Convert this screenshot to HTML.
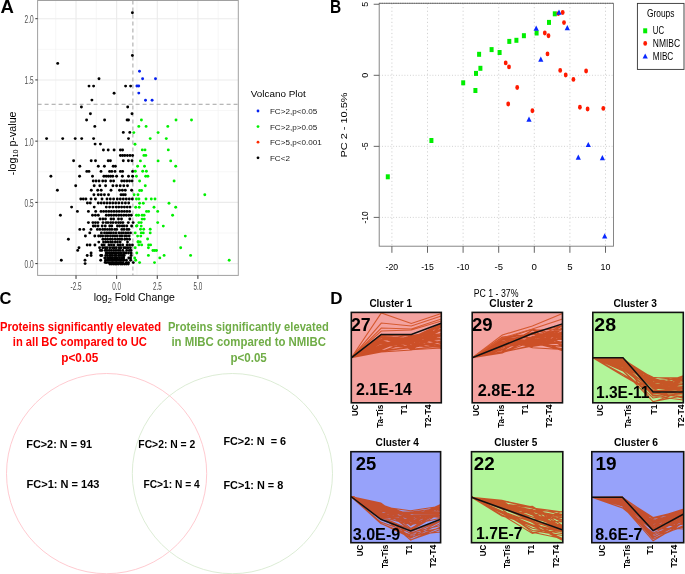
<!DOCTYPE html>
<html><head><meta charset="utf-8"><title>Figure</title>
<style>html,body{margin:0;padding:0;background:#fff;}body{width:685px;height:574px;overflow:hidden;font-family:"Liberation Sans",sans-serif;}svg{display:block;will-change:transform;}</style>
</head><body>
<svg width="685" height="574" viewBox="0 0 685 574" font-family="Liberation Sans, sans-serif"><rect x="37.6" y="0.5" width="200.70000000000002" height="274.9" fill="#fff"/>
<path d="M55.71 0.5V275.4 M96.34 0.5V275.4 M136.96 0.5V275.4 M177.59 0.5V275.4 M218.21 0.5V275.4 M37.6 232.99H238.3 M37.6 171.76H238.3 M37.6 110.54H238.3 M37.6 49.31H238.3" stroke="#f2f2f2" stroke-width="0.6" fill="none"/>
<path d="M76.03 0.5V275.4 M116.65 0.5V275.4 M157.28 0.5V275.4 M197.90 0.5V275.4 M37.6 263.60H238.3 M37.6 202.38H238.3 M37.6 141.15H238.3 M37.6 79.93H238.3 M37.6 18.70H238.3" stroke="#ebebeb" stroke-width="1.1" fill="none"/>
<path d="M37.6 104.29H238.3" stroke="#999" stroke-width="0.9" stroke-dasharray="4 3" fill="none"/>
<path d="M132.90 0.5V275.4" stroke="#999" stroke-width="0.9" stroke-dasharray="4 3" fill="none"/>
<g fill="#000"><circle cx="132.4" cy="12.7" r="1.45"/><circle cx="132.4" cy="55.5" r="1.45"/><circle cx="57.7" cy="63.4" r="1.45"/><circle cx="99.0" cy="78.7" r="1.45"/><circle cx="89.0" cy="86.1" r="1.45"/><circle cx="93.6" cy="86.1" r="1.45"/><circle cx="125.6" cy="86.1" r="1.45"/><circle cx="130.6" cy="86.1" r="1.45"/><circle cx="114.1" cy="93.3" r="1.45"/><circle cx="91.9" cy="100.1" r="1.45"/><circle cx="81.4" cy="107.0" r="1.45"/><circle cx="127.7" cy="107.0" r="1.45"/><circle cx="90.4" cy="113.7" r="1.45"/><circle cx="132.0" cy="113.7" r="1.45"/><circle cx="86.6" cy="120.0" r="1.45"/><circle cx="104.6" cy="120.0" r="1.45"/><circle cx="127.1" cy="120.0" r="1.45"/><circle cx="128.5" cy="120.0" r="1.45"/><circle cx="94.8" cy="126.4" r="1.45"/><circle cx="123.3" cy="132.4" r="1.45"/><circle cx="129.8" cy="132.4" r="1.45"/><circle cx="46.6" cy="138.6" r="1.45"/><circle cx="62.7" cy="138.6" r="1.45"/><circle cx="75.2" cy="138.6" r="1.45"/><circle cx="81.7" cy="138.6" r="1.45"/><circle cx="93.6" cy="138.6" r="1.45"/><circle cx="128.5" cy="138.6" r="1.45"/><circle cx="95.1" cy="144.1" r="1.45"/><circle cx="100.4" cy="144.1" r="1.45"/><circle cx="103.4" cy="150.0" r="1.45"/><circle cx="108.2" cy="150.0" r="1.45"/><circle cx="114.1" cy="150.0" r="1.45"/><circle cx="120.4" cy="150.0" r="1.45"/><circle cx="122.6" cy="150.0" r="1.45"/><circle cx="120.4" cy="155.5" r="1.45"/><circle cx="122.6" cy="155.5" r="1.45"/><circle cx="124.8" cy="155.5" r="1.45"/><circle cx="127.4" cy="155.5" r="1.45"/><circle cx="130.0" cy="155.5" r="1.45"/><circle cx="132.6" cy="155.5" r="1.45"/><circle cx="73.6" cy="160.8" r="1.45"/><circle cx="91.2" cy="160.8" r="1.45"/><circle cx="95.5" cy="160.8" r="1.45"/><circle cx="108.2" cy="160.8" r="1.45"/><circle cx="110.4" cy="160.8" r="1.45"/><circle cx="123.3" cy="160.8" r="1.45"/><circle cx="128.4" cy="160.8" r="1.45"/><circle cx="132.0" cy="160.8" r="1.45"/><circle cx="79.8" cy="166.2" r="1.45"/><circle cx="98.3" cy="166.2" r="1.45"/><circle cx="104.4" cy="166.2" r="1.45"/><circle cx="113.2" cy="166.2" r="1.45"/><circle cx="115.4" cy="166.2" r="1.45"/><circle cx="86.8" cy="171.4" r="1.45"/><circle cx="89.0" cy="171.4" r="1.45"/><circle cx="101.0" cy="171.4" r="1.45"/><circle cx="109.6" cy="171.4" r="1.45"/><circle cx="111.8" cy="171.4" r="1.45"/><circle cx="115.0" cy="171.4" r="1.45"/><circle cx="120.4" cy="171.4" r="1.45"/><circle cx="122.6" cy="171.4" r="1.45"/><circle cx="132.6" cy="171.4" r="1.45"/><circle cx="50.9" cy="176.2" r="1.45"/><circle cx="79.6" cy="176.2" r="1.45"/><circle cx="92.5" cy="176.2" r="1.45"/><circle cx="103.9" cy="176.2" r="1.45"/><circle cx="106.2" cy="176.2" r="1.45"/><circle cx="108.4" cy="176.2" r="1.45"/><circle cx="110.6" cy="176.2" r="1.45"/><circle cx="112.8" cy="176.2" r="1.45"/><circle cx="116.6" cy="176.2" r="1.45"/><circle cx="122.4" cy="176.2" r="1.45"/><circle cx="128.5" cy="176.2" r="1.45"/><circle cx="132.6" cy="176.2" r="1.45"/><circle cx="93.2" cy="181.0" r="1.45"/><circle cx="96.0" cy="181.0" r="1.45"/><circle cx="99.0" cy="181.0" r="1.45"/><circle cx="102.7" cy="181.0" r="1.45"/><circle cx="105.6" cy="181.0" r="1.45"/><circle cx="110.7" cy="181.0" r="1.45"/><circle cx="113.6" cy="181.0" r="1.45"/><circle cx="121.7" cy="181.0" r="1.45"/><circle cx="124.3" cy="181.0" r="1.45"/><circle cx="126.9" cy="181.0" r="1.45"/><circle cx="129.5" cy="181.0" r="1.45"/><circle cx="132.1" cy="181.0" r="1.45"/><circle cx="75.7" cy="185.8" r="1.45"/><circle cx="94.2" cy="185.8" r="1.45"/><circle cx="99.8" cy="185.8" r="1.45"/><circle cx="105.6" cy="185.8" r="1.45"/><circle cx="112.9" cy="185.8" r="1.45"/><circle cx="116.6" cy="185.8" r="1.45"/><circle cx="120.2" cy="185.8" r="1.45"/><circle cx="123.8" cy="185.8" r="1.45"/><circle cx="127.5" cy="185.8" r="1.45"/><circle cx="57.4" cy="190.3" r="1.45"/><circle cx="91.3" cy="190.3" r="1.45"/><circle cx="97.7" cy="190.3" r="1.45"/><circle cx="101.2" cy="190.3" r="1.45"/><circle cx="111.0" cy="190.3" r="1.45"/><circle cx="119.5" cy="190.3" r="1.45"/><circle cx="122.4" cy="190.3" r="1.45"/><circle cx="125.3" cy="190.3" r="1.45"/><circle cx="131.6" cy="190.3" r="1.45"/><circle cx="93.9" cy="194.7" r="1.45"/><circle cx="98.3" cy="194.7" r="1.45"/><circle cx="101.2" cy="194.7" r="1.45"/><circle cx="104.4" cy="194.7" r="1.45"/><circle cx="108.5" cy="194.7" r="1.45"/><circle cx="121.0" cy="194.7" r="1.45"/><circle cx="123.2" cy="194.7" r="1.45"/><circle cx="125.3" cy="194.7" r="1.45"/><circle cx="80.8" cy="199.0" r="1.45"/><circle cx="83.3" cy="199.0" r="1.45"/><circle cx="85.9" cy="199.0" r="1.45"/><circle cx="91.0" cy="199.0" r="1.45"/><circle cx="95.4" cy="199.0" r="1.45"/><circle cx="102.0" cy="199.0" r="1.45"/><circle cx="107.0" cy="199.0" r="1.45"/><circle cx="110.3" cy="199.0" r="1.45"/><circle cx="113.6" cy="199.0" r="1.45"/><circle cx="117.3" cy="199.0" r="1.45"/><circle cx="120.3" cy="199.0" r="1.45"/><circle cx="123.3" cy="199.0" r="1.45"/><circle cx="126.3" cy="199.0" r="1.45"/><circle cx="129.3" cy="199.0" r="1.45"/><circle cx="132.3" cy="199.0" r="1.45"/><circle cx="87.4" cy="203.0" r="1.45"/><circle cx="90.3" cy="203.0" r="1.45"/><circle cx="98.3" cy="203.0" r="1.45"/><circle cx="101.2" cy="203.0" r="1.45"/><circle cx="104.1" cy="203.0" r="1.45"/><circle cx="107.0" cy="203.0" r="1.45"/><circle cx="109.9" cy="203.0" r="1.45"/><circle cx="112.8" cy="203.0" r="1.45"/><circle cx="115.7" cy="203.0" r="1.45"/><circle cx="118.8" cy="203.0" r="1.45"/><circle cx="122.1" cy="203.0" r="1.45"/><circle cx="125.4" cy="203.0" r="1.45"/><circle cx="128.7" cy="203.0" r="1.45"/><circle cx="71.6" cy="207.1" r="1.45"/><circle cx="94.2" cy="207.1" r="1.45"/><circle cx="106.3" cy="207.1" r="1.45"/><circle cx="109.6" cy="207.1" r="1.45"/><circle cx="112.9" cy="207.1" r="1.45"/><circle cx="116.2" cy="207.1" r="1.45"/><circle cx="118.8" cy="207.1" r="1.45"/><circle cx="121.6" cy="207.1" r="1.45"/><circle cx="124.4" cy="207.1" r="1.45"/><circle cx="127.2" cy="207.1" r="1.45"/><circle cx="130.0" cy="207.1" r="1.45"/><circle cx="77.4" cy="211.4" r="1.45"/><circle cx="88.4" cy="211.4" r="1.45"/><circle cx="95.7" cy="211.4" r="1.45"/><circle cx="101.0" cy="211.4" r="1.45"/><circle cx="103.6" cy="211.4" r="1.45"/><circle cx="106.2" cy="211.4" r="1.45"/><circle cx="108.8" cy="211.4" r="1.45"/><circle cx="111.4" cy="211.4" r="1.45"/><circle cx="114.0" cy="211.4" r="1.45"/><circle cx="116.6" cy="211.4" r="1.45"/><circle cx="119.2" cy="211.4" r="1.45"/><circle cx="121.8" cy="211.4" r="1.45"/><circle cx="124.4" cy="211.4" r="1.45"/><circle cx="127.0" cy="211.4" r="1.45"/><circle cx="129.6" cy="211.4" r="1.45"/><circle cx="60.4" cy="215.2" r="1.45"/><circle cx="92.5" cy="215.2" r="1.45"/><circle cx="95.4" cy="215.2" r="1.45"/><circle cx="98.3" cy="215.2" r="1.45"/><circle cx="106.3" cy="215.2" r="1.45"/><circle cx="108.8" cy="215.2" r="1.45"/><circle cx="111.3" cy="215.2" r="1.45"/><circle cx="113.8" cy="215.2" r="1.45"/><circle cx="116.3" cy="215.2" r="1.45"/><circle cx="118.8" cy="215.2" r="1.45"/><circle cx="121.3" cy="215.2" r="1.45"/><circle cx="123.8" cy="215.2" r="1.45"/><circle cx="126.3" cy="215.2" r="1.45"/><circle cx="128.8" cy="215.2" r="1.45"/><circle cx="131.3" cy="215.2" r="1.45"/><circle cx="100.0" cy="219.0" r="1.45"/><circle cx="102.9" cy="219.0" r="1.45"/><circle cx="105.5" cy="219.0" r="1.45"/><circle cx="111.0" cy="219.0" r="1.45"/><circle cx="113.6" cy="219.0" r="1.45"/><circle cx="118.5" cy="219.0" r="1.45"/><circle cx="121.5" cy="219.0" r="1.45"/><circle cx="129.8" cy="219.0" r="1.45"/><circle cx="88.4" cy="222.6" r="1.45"/><circle cx="92.9" cy="222.6" r="1.45"/><circle cx="95.4" cy="222.6" r="1.45"/><circle cx="97.9" cy="222.6" r="1.45"/><circle cx="103.0" cy="222.6" r="1.45"/><circle cx="106.1" cy="222.6" r="1.45"/><circle cx="108.0" cy="222.6" r="1.45"/><circle cx="110.7" cy="222.6" r="1.45"/><circle cx="113.0" cy="222.6" r="1.45"/><circle cx="115.9" cy="222.6" r="1.45"/><circle cx="118.5" cy="222.6" r="1.45"/><circle cx="120.6" cy="222.6" r="1.45"/><circle cx="122.9" cy="222.6" r="1.45"/><circle cx="128.3" cy="222.6" r="1.45"/><circle cx="133.1" cy="222.6" r="1.45"/><circle cx="93.3" cy="226.0" r="1.45"/><circle cx="95.3" cy="226.0" r="1.45"/><circle cx="98.0" cy="226.0" r="1.45"/><circle cx="102.2" cy="226.0" r="1.45"/><circle cx="105.3" cy="226.0" r="1.45"/><circle cx="109.7" cy="226.0" r="1.45"/><circle cx="111.8" cy="226.0" r="1.45"/><circle cx="117.4" cy="226.0" r="1.45"/><circle cx="119.6" cy="226.0" r="1.45"/><circle cx="122.2" cy="226.0" r="1.45"/><circle cx="124.1" cy="226.0" r="1.45"/><circle cx="126.8" cy="226.0" r="1.45"/><circle cx="131.6" cy="226.0" r="1.45"/><circle cx="79.8" cy="229.4" r="1.45"/><circle cx="83.7" cy="229.4" r="1.45"/><circle cx="91.0" cy="229.4" r="1.45"/><circle cx="97.4" cy="229.4" r="1.45"/><circle cx="99.9" cy="229.4" r="1.45"/><circle cx="102.7" cy="229.4" r="1.45"/><circle cx="104.9" cy="229.4" r="1.45"/><circle cx="107.4" cy="229.4" r="1.45"/><circle cx="109.7" cy="229.4" r="1.45"/><circle cx="111.9" cy="229.4" r="1.45"/><circle cx="114.8" cy="229.4" r="1.45"/><circle cx="116.7" cy="229.4" r="1.45"/><circle cx="121.8" cy="229.4" r="1.45"/><circle cx="124.0" cy="229.4" r="1.45"/><circle cx="126.9" cy="229.4" r="1.45"/><circle cx="128.9" cy="229.4" r="1.45"/><circle cx="89.8" cy="232.9" r="1.45"/><circle cx="101.4" cy="232.9" r="1.45"/><circle cx="104.5" cy="232.9" r="1.45"/><circle cx="106.8" cy="232.9" r="1.45"/><circle cx="109.1" cy="232.9" r="1.45"/><circle cx="111.1" cy="232.9" r="1.45"/><circle cx="113.5" cy="232.9" r="1.45"/><circle cx="116.0" cy="232.9" r="1.45"/><circle cx="119.0" cy="232.9" r="1.45"/><circle cx="121.4" cy="232.9" r="1.45"/><circle cx="123.4" cy="232.9" r="1.45"/><circle cx="125.8" cy="232.9" r="1.45"/><circle cx="128.1" cy="232.9" r="1.45"/><circle cx="130.5" cy="232.9" r="1.45"/><circle cx="85.4" cy="236.0" r="1.45"/><circle cx="94.8" cy="236.0" r="1.45"/><circle cx="98.6" cy="236.0" r="1.45"/><circle cx="100.6" cy="236.0" r="1.45"/><circle cx="102.7" cy="236.0" r="1.45"/><circle cx="105.6" cy="236.0" r="1.45"/><circle cx="107.7" cy="236.0" r="1.45"/><circle cx="110.4" cy="236.0" r="1.45"/><circle cx="112.7" cy="236.0" r="1.45"/><circle cx="114.9" cy="236.0" r="1.45"/><circle cx="117.2" cy="236.0" r="1.45"/><circle cx="120.0" cy="236.0" r="1.45"/><circle cx="122.0" cy="236.0" r="1.45"/><circle cx="124.7" cy="236.0" r="1.45"/><circle cx="126.6" cy="236.0" r="1.45"/><circle cx="129.2" cy="236.0" r="1.45"/><circle cx="68.4" cy="239.2" r="1.45"/><circle cx="102.9" cy="239.2" r="1.45"/><circle cx="105.4" cy="239.2" r="1.45"/><circle cx="107.6" cy="239.2" r="1.45"/><circle cx="110.3" cy="239.2" r="1.45"/><circle cx="112.4" cy="239.2" r="1.45"/><circle cx="115.2" cy="239.2" r="1.45"/><circle cx="117.7" cy="239.2" r="1.45"/><circle cx="119.7" cy="239.2" r="1.45"/><circle cx="121.8" cy="239.2" r="1.45"/><circle cx="124.8" cy="239.2" r="1.45"/><circle cx="127.1" cy="239.2" r="1.45"/><circle cx="129.5" cy="239.2" r="1.45"/><circle cx="98.8" cy="242.1" r="1.45"/><circle cx="103.5" cy="242.1" r="1.45"/><circle cx="105.8" cy="242.1" r="1.45"/><circle cx="108.2" cy="242.1" r="1.45"/><circle cx="110.6" cy="242.1" r="1.45"/><circle cx="112.5" cy="242.1" r="1.45"/><circle cx="115.3" cy="242.1" r="1.45"/><circle cx="117.5" cy="242.1" r="1.45"/><circle cx="120.2" cy="242.1" r="1.45"/><circle cx="127.5" cy="242.1" r="1.45"/><circle cx="87.2" cy="245.0" r="1.45"/><circle cx="90.0" cy="245.0" r="1.45"/><circle cx="94.9" cy="245.0" r="1.45"/><circle cx="102.0" cy="245.0" r="1.45"/><circle cx="104.2" cy="245.0" r="1.45"/><circle cx="108.9" cy="245.0" r="1.45"/><circle cx="111.4" cy="245.0" r="1.45"/><circle cx="113.9" cy="245.0" r="1.45"/><circle cx="118.0" cy="245.0" r="1.45"/><circle cx="120.2" cy="245.0" r="1.45"/><circle cx="122.7" cy="245.0" r="1.45"/><circle cx="127.1" cy="245.0" r="1.45"/><circle cx="129.6" cy="245.0" r="1.45"/><circle cx="132.4" cy="245.0" r="1.45"/><circle cx="79.0" cy="247.7" r="1.45"/><circle cx="99.6" cy="247.7" r="1.45"/><circle cx="102.8" cy="247.7" r="1.45"/><circle cx="105.3" cy="247.7" r="1.45"/><circle cx="107.2" cy="247.7" r="1.45"/><circle cx="109.9" cy="247.7" r="1.45"/><circle cx="112.5" cy="247.7" r="1.45"/><circle cx="114.3" cy="247.7" r="1.45"/><circle cx="116.3" cy="247.7" r="1.45"/><circle cx="119.1" cy="247.7" r="1.45"/><circle cx="121.0" cy="247.7" r="1.45"/><circle cx="123.9" cy="247.7" r="1.45"/><circle cx="125.8" cy="247.7" r="1.45"/><circle cx="128.0" cy="247.7" r="1.45"/><circle cx="130.4" cy="247.7" r="1.45"/><circle cx="77.7" cy="250.4" r="1.45"/><circle cx="100.3" cy="250.4" r="1.45"/><circle cx="101.8" cy="250.4" r="1.45"/><circle cx="105.2" cy="250.4" r="1.45"/><circle cx="106.9" cy="250.4" r="1.45"/><circle cx="109.3" cy="250.4" r="1.45"/><circle cx="111.4" cy="250.4" r="1.45"/><circle cx="113.7" cy="250.4" r="1.45"/><circle cx="115.9" cy="250.4" r="1.45"/><circle cx="118.2" cy="250.4" r="1.45"/><circle cx="120.1" cy="250.4" r="1.45"/><circle cx="122.8" cy="250.4" r="1.45"/><circle cx="126.7" cy="250.4" r="1.45"/><circle cx="129.3" cy="250.4" r="1.45"/><circle cx="131.1" cy="250.4" r="1.45"/><circle cx="91.1" cy="253.0" r="1.45"/><circle cx="106.1" cy="253.0" r="1.45"/><circle cx="107.6" cy="253.0" r="1.45"/><circle cx="109.4" cy="253.0" r="1.45"/><circle cx="111.3" cy="253.0" r="1.45"/><circle cx="113.1" cy="253.0" r="1.45"/><circle cx="114.7" cy="253.0" r="1.45"/><circle cx="116.3" cy="253.0" r="1.45"/><circle cx="118.3" cy="253.0" r="1.45"/><circle cx="120.3" cy="253.0" r="1.45"/><circle cx="121.5" cy="253.0" r="1.45"/><circle cx="123.7" cy="253.0" r="1.45"/><circle cx="124.3" cy="253.0" r="1.45"/><circle cx="125.9" cy="253.0" r="1.45"/><circle cx="128.5" cy="253.0" r="1.45"/><circle cx="131.1" cy="253.0" r="1.45"/><circle cx="87.2" cy="255.5" r="1.45"/><circle cx="91.1" cy="255.5" r="1.45"/><circle cx="100.7" cy="255.5" r="1.45"/><circle cx="101.8" cy="255.5" r="1.45"/><circle cx="105.7" cy="255.5" r="1.45"/><circle cx="107.4" cy="255.5" r="1.45"/><circle cx="109.6" cy="255.5" r="1.45"/><circle cx="110.9" cy="255.5" r="1.45"/><circle cx="112.6" cy="255.5" r="1.45"/><circle cx="114.9" cy="255.5" r="1.45"/><circle cx="116.3" cy="255.5" r="1.45"/><circle cx="118.6" cy="255.5" r="1.45"/><circle cx="120.1" cy="255.5" r="1.45"/><circle cx="121.9" cy="255.5" r="1.45"/><circle cx="123.4" cy="255.5" r="1.45"/><circle cx="124.2" cy="255.5" r="1.45"/><circle cx="131.1" cy="255.5" r="1.45"/><circle cx="104.8" cy="258.0" r="1.45"/><circle cx="107.4" cy="258.0" r="1.45"/><circle cx="109.0" cy="258.0" r="1.45"/><circle cx="110.9" cy="258.0" r="1.45"/><circle cx="112.5" cy="258.0" r="1.45"/><circle cx="114.4" cy="258.0" r="1.45"/><circle cx="115.8" cy="258.0" r="1.45"/><circle cx="117.5" cy="258.0" r="1.45"/><circle cx="119.5" cy="258.0" r="1.45"/><circle cx="121.5" cy="258.0" r="1.45"/><circle cx="122.9" cy="258.0" r="1.45"/><circle cx="123.7" cy="258.0" r="1.45"/><circle cx="128.8" cy="258.0" r="1.45"/><circle cx="130.6" cy="258.0" r="1.45"/><circle cx="61.3" cy="260.2" r="1.45"/><circle cx="85.0" cy="260.2" r="1.45"/><circle cx="100.7" cy="260.2" r="1.45"/><circle cx="105.5" cy="260.2" r="1.45"/><circle cx="107.4" cy="260.2" r="1.45"/><circle cx="109.1" cy="260.2" r="1.45"/><circle cx="111.2" cy="260.2" r="1.45"/><circle cx="112.9" cy="260.2" r="1.45"/><circle cx="114.9" cy="260.2" r="1.45"/><circle cx="116.5" cy="260.2" r="1.45"/><circle cx="118.2" cy="260.2" r="1.45"/><circle cx="120.2" cy="260.2" r="1.45"/><circle cx="121.5" cy="260.2" r="1.45"/><circle cx="123.5" cy="260.2" r="1.45"/><circle cx="123.7" cy="260.2" r="1.45"/><circle cx="126.4" cy="260.2" r="1.45"/><circle cx="130.6" cy="260.2" r="1.45"/><circle cx="105.1" cy="262.4" r="1.45"/><circle cx="106.3" cy="262.6" r="1.45"/><circle cx="108.3" cy="262.6" r="1.45"/><circle cx="110.3" cy="262.6" r="1.45"/><circle cx="112.1" cy="262.6" r="1.45"/><circle cx="113.4" cy="262.6" r="1.45"/><circle cx="115.6" cy="262.6" r="1.45"/><circle cx="117.0" cy="262.6" r="1.45"/><circle cx="119.2" cy="262.6" r="1.45"/><circle cx="120.6" cy="262.6" r="1.45"/><circle cx="122.6" cy="262.6" r="1.45"/><circle cx="126.4" cy="262.6" r="1.45"/><circle cx="128.5" cy="262.6" r="1.45"/><circle cx="133.3" cy="262.6" r="1.45"/><circle cx="85.1" cy="263.6" r="1.45"/><circle cx="109.9" cy="264.0" r="1.45"/><circle cx="111.8" cy="264.0" r="1.45"/><circle cx="113.7" cy="264.0" r="1.45"/><circle cx="115.3" cy="264.0" r="1.45"/><circle cx="116.8" cy="264.0" r="1.45"/><circle cx="118.6" cy="264.0" r="1.45"/><circle cx="120.8" cy="264.0" r="1.45"/><circle cx="122.2" cy="264.0" r="1.45"/><circle cx="124.3" cy="264.0" r="1.45"/><circle cx="126.2" cy="264.0" r="1.45"/><circle cx="128.3" cy="264.0" r="1.45"/></g>
<g fill="#00f000"><circle cx="141.4" cy="120.0" r="1.45"/><circle cx="176.0" cy="120.0" r="1.45"/><circle cx="191.5" cy="120.0" r="1.45"/><circle cx="138.8" cy="126.4" r="1.45"/><circle cx="146.1" cy="126.4" r="1.45"/><circle cx="167.8" cy="126.4" r="1.45"/><circle cx="133.8" cy="132.6" r="1.45"/><circle cx="158.1" cy="132.6" r="1.45"/><circle cx="150.2" cy="138.6" r="1.45"/><circle cx="166.3" cy="138.6" r="1.45"/><circle cx="135.0" cy="144.2" r="1.45"/><circle cx="142.3" cy="149.9" r="1.45"/><circle cx="145.0" cy="149.9" r="1.45"/><circle cx="168.3" cy="149.9" r="1.45"/><circle cx="143.9" cy="155.4" r="1.45"/><circle cx="145.8" cy="155.4" r="1.45"/><circle cx="140.4" cy="160.9" r="1.45"/><circle cx="158.1" cy="160.9" r="1.45"/><circle cx="170.7" cy="160.9" r="1.45"/><circle cx="137.6" cy="166.3" r="1.45"/><circle cx="144.5" cy="166.3" r="1.45"/><circle cx="175.7" cy="166.3" r="1.45"/><circle cx="135.3" cy="171.3" r="1.45"/><circle cx="142.7" cy="171.3" r="1.45"/><circle cx="146.4" cy="171.3" r="1.45"/><circle cx="136.4" cy="176.2" r="1.45"/><circle cx="145.7" cy="176.2" r="1.45"/><circle cx="147.9" cy="176.2" r="1.45"/><circle cx="139.6" cy="181.0" r="1.45"/><circle cx="174.1" cy="181.0" r="1.45"/><circle cx="145.3" cy="185.7" r="1.45"/><circle cx="139.6" cy="190.5" r="1.45"/><circle cx="141.6" cy="190.5" r="1.45"/><circle cx="134.1" cy="194.8" r="1.45"/><circle cx="138.0" cy="194.8" r="1.45"/><circle cx="204.8" cy="194.8" r="1.45"/><circle cx="136.4" cy="199.0" r="1.45"/><circle cx="138.9" cy="199.0" r="1.45"/><circle cx="146.0" cy="199.0" r="1.45"/><circle cx="151.3" cy="199.0" r="1.45"/><circle cx="155.0" cy="199.0" r="1.45"/><circle cx="139.6" cy="203.2" r="1.45"/><circle cx="143.3" cy="203.2" r="1.45"/><circle cx="169.0" cy="203.2" r="1.45"/><circle cx="135.7" cy="207.2" r="1.45"/><circle cx="139.2" cy="207.2" r="1.45"/><circle cx="154.0" cy="207.2" r="1.45"/><circle cx="175.7" cy="207.2" r="1.45"/><circle cx="146.5" cy="211.4" r="1.45"/><circle cx="148.6" cy="211.4" r="1.45"/><circle cx="157.7" cy="211.4" r="1.45"/><circle cx="136.4" cy="215.2" r="1.45"/><circle cx="138.6" cy="215.2" r="1.45"/><circle cx="142.1" cy="215.2" r="1.45"/><circle cx="144.1" cy="215.2" r="1.45"/><circle cx="172.6" cy="215.2" r="1.45"/><circle cx="142.1" cy="219.1" r="1.45"/><circle cx="144.3" cy="219.1" r="1.45"/><circle cx="138.9" cy="222.6" r="1.45"/><circle cx="141.2" cy="222.6" r="1.45"/><circle cx="157.7" cy="222.6" r="1.45"/><circle cx="136.4" cy="226.1" r="1.45"/><circle cx="141.2" cy="226.1" r="1.45"/><circle cx="163.3" cy="226.1" r="1.45"/><circle cx="140.5" cy="229.3" r="1.45"/><circle cx="143.7" cy="229.3" r="1.45"/><circle cx="150.2" cy="229.3" r="1.45"/><circle cx="135.2" cy="232.9" r="1.45"/><circle cx="141.2" cy="232.9" r="1.45"/><circle cx="143.3" cy="232.9" r="1.45"/><circle cx="150.2" cy="232.9" r="1.45"/><circle cx="137.6" cy="236.1" r="1.45"/><circle cx="140.8" cy="236.1" r="1.45"/><circle cx="185.3" cy="236.1" r="1.45"/><circle cx="147.6" cy="239.0" r="1.45"/><circle cx="138.0" cy="242.0" r="1.45"/><circle cx="140.2" cy="242.0" r="1.45"/><circle cx="138.9" cy="244.9" r="1.45"/><circle cx="141.7" cy="244.9" r="1.45"/><circle cx="148.6" cy="244.9" r="1.45"/><circle cx="150.6" cy="244.9" r="1.45"/><circle cx="135.2" cy="247.7" r="1.45"/><circle cx="148.4" cy="247.7" r="1.45"/><circle cx="180.7" cy="247.7" r="1.45"/><circle cx="152.9" cy="250.5" r="1.45"/><circle cx="154.7" cy="250.5" r="1.45"/><circle cx="156.5" cy="250.5" r="1.45"/><circle cx="136.8" cy="253.0" r="1.45"/><circle cx="148.4" cy="255.4" r="1.45"/><circle cx="164.1" cy="255.4" r="1.45"/><circle cx="190.6" cy="255.4" r="1.45"/><circle cx="134.7" cy="257.9" r="1.45"/><circle cx="159.8" cy="257.9" r="1.45"/><circle cx="135.7" cy="260.2" r="1.45"/><circle cx="229.2" cy="260.2" r="1.45"/><circle cx="139.6" cy="262.6" r="1.45"/><circle cx="154.5" cy="262.6" r="1.45"/><circle cx="137.0" cy="225.8" r="1.45"/><circle cx="138.2" cy="241.8" r="1.45"/></g>
<g fill="#0520f0"><circle cx="139.5" cy="71.2" r="1.45"/><circle cx="142.6" cy="78.8" r="1.45"/><circle cx="155.5" cy="78.8" r="1.45"/><circle cx="136.9" cy="86.0" r="1.45"/><circle cx="138.7" cy="86.0" r="1.45"/><circle cx="138.8" cy="93.1" r="1.45"/><circle cx="145.5" cy="100.2" r="1.45"/><circle cx="152.1" cy="100.2" r="1.45"/></g>
<rect x="37.6" y="0.5" width="200.70000000000002" height="274.9" fill="none" stroke="#a0a0a0" stroke-width="1"/>
<path d="M35.300000000000004 263.60H37.6 M35.300000000000004 202.38H37.6 M35.300000000000004 141.15H37.6 M35.300000000000004 79.93H37.6 M35.300000000000004 18.70H37.6 M76.03 275.4V278.9 M116.65 275.4V278.9 M157.28 275.4V278.9 M197.90 275.4V278.9" stroke="#333" stroke-width="1" fill="none"/>
<text x="33.60" y="268.10" font-size="10.2" fill="#4d4d4d" text-anchor="end" textLength="9.10" lengthAdjust="spacingAndGlyphs">0.0</text>
<text x="33.60" y="206.88" font-size="10.2" fill="#4d4d4d" text-anchor="end" textLength="9.10" lengthAdjust="spacingAndGlyphs">0.5</text>
<text x="33.60" y="145.65" font-size="10.2" fill="#4d4d4d" text-anchor="end" textLength="9.10" lengthAdjust="spacingAndGlyphs">1.0</text>
<text x="33.60" y="84.43" font-size="10.2" fill="#4d4d4d" text-anchor="end" textLength="9.10" lengthAdjust="spacingAndGlyphs">1.5</text>
<text x="33.60" y="23.20" font-size="10.2" fill="#4d4d4d" text-anchor="end" textLength="9.10" lengthAdjust="spacingAndGlyphs">2.0</text>
<text x="76.03" y="290.20" font-size="10.2" fill="#4d4d4d" text-anchor="middle" textLength="11.00" lengthAdjust="spacingAndGlyphs">-2.5</text>
<text x="116.65" y="290.20" font-size="10.2" fill="#4d4d4d" text-anchor="middle" textLength="8.80" lengthAdjust="spacingAndGlyphs">0.0</text>
<text x="157.28" y="290.20" font-size="10.2" fill="#4d4d4d" text-anchor="middle" textLength="8.80" lengthAdjust="spacingAndGlyphs">2.5</text>
<text x="197.90" y="290.20" font-size="10.2" fill="#4d4d4d" text-anchor="middle" textLength="8.80" lengthAdjust="spacingAndGlyphs">5.0</text>
<text x="93.7" y="300.8" font-size="10.5" fill="#000">log<tspan font-size="7.3" dy="2">2</tspan><tspan dy="-2"> Fold Change</tspan></text>
<text x="15.7" y="175.3" font-size="10.7" fill="#000" transform="rotate(-90 15.7 175.3)">-log<tspan font-size="7.2" dy="2">10</tspan><tspan dy="-2"> p-value</tspan></text>
<text x="250.70" y="96.90" font-size="9.7" fill="#000" text-anchor="start" textLength="54.99" lengthAdjust="spacingAndGlyphs" xml:space="preserve">Volcano Plot</text>
<circle cx="258" cy="111.0" r="1.4" fill="#0520f0"/>
<text x="269.90" y="113.90" font-size="8.1" fill="#1a1a1a" text-anchor="start">FC&gt;2,p&lt;0.05</text>
<circle cx="258" cy="126.6" r="1.4" fill="#00f000"/>
<text x="269.90" y="129.50" font-size="8.1" fill="#1a1a1a" text-anchor="start">FC&gt;2,p&gt;0.05</text>
<circle cx="258" cy="142.2" r="1.4" fill="#ff2a00"/>
<text x="269.90" y="145.10" font-size="8.1" fill="#1a1a1a" text-anchor="start">FC&gt;5,p&lt;0.001</text>
<circle cx="258" cy="157.8" r="1.4" fill="#000"/>
<text x="269.90" y="160.70" font-size="8.1" fill="#1a1a1a" text-anchor="start">FC&lt;2</text>
<path d="M391.90 3.3V246.2 M427.50 3.3V246.2 M463.10 3.3V246.2 M498.70 3.3V246.2 M534.30 3.3V246.2 M569.90 3.3V246.2 M605.50 3.3V246.2" stroke="#c8c8c8" stroke-width="0.8" stroke-dasharray="1.2 2.5" fill="none"/>
<path d="M379.2 75.30H613.5 M379.2 146.35H613.5 M379.2 217.40H613.5" stroke="#c8c8c8" stroke-width="0.8" stroke-dasharray="1 1.8" fill="none"/>
<rect x="379.2" y="3.3" width="234.3" height="242.89999999999998" fill="none" stroke="#7a7a7a" stroke-width="0.9"/>
<path d="M379.2 3.3H613.5" stroke="#666" stroke-width="0.9" stroke-dasharray="1.5 0.8" fill="none"/>
<path d="M391.90 246.2V252.79999999999998 M427.50 246.2V252.79999999999998 M463.10 246.2V252.79999999999998 M498.70 246.2V252.79999999999998 M534.30 246.2V252.79999999999998 M569.90 246.2V252.79999999999998 M605.50 246.2V252.79999999999998 M373.7 4.25H379.2 M373.7 75.30H379.2 M373.7 146.35H379.2 M373.7 217.40H379.2" stroke="#555" stroke-width="0.9" fill="none"/>
<text x="391.90" y="269.90" font-size="9.9" fill="#000" text-anchor="middle" textLength="12.60" lengthAdjust="spacingAndGlyphs">-20</text>
<text x="427.50" y="269.90" font-size="9.9" fill="#000" text-anchor="middle" textLength="12.60" lengthAdjust="spacingAndGlyphs">-15</text>
<text x="463.10" y="269.90" font-size="9.9" fill="#000" text-anchor="middle" textLength="12.60" lengthAdjust="spacingAndGlyphs">-10</text>
<text x="498.70" y="269.90" font-size="9.9" fill="#000" text-anchor="middle" textLength="8.40" lengthAdjust="spacingAndGlyphs">-5</text>
<text x="534.30" y="269.90" font-size="9.9" fill="#000" text-anchor="middle" textLength="5.40" lengthAdjust="spacingAndGlyphs">0</text>
<text x="569.90" y="269.90" font-size="9.9" fill="#000" text-anchor="middle" textLength="5.40" lengthAdjust="spacingAndGlyphs">5</text>
<text x="605.50" y="269.90" font-size="9.9" fill="#000" text-anchor="middle" textLength="9.90" lengthAdjust="spacingAndGlyphs">10</text>
<text x="368.40" y="4.25" font-size="9.2" fill="#000" text-anchor="middle" textLength="5.00" lengthAdjust="spacingAndGlyphs" transform="rotate(-90 368.40 4.25)">5</text>
<text x="368.40" y="75.30" font-size="9.2" fill="#000" text-anchor="middle" textLength="5.00" lengthAdjust="spacingAndGlyphs" transform="rotate(-90 368.40 75.30)">0</text>
<text x="368.40" y="146.35" font-size="9.2" fill="#000" text-anchor="middle" textLength="8.00" lengthAdjust="spacingAndGlyphs" transform="rotate(-90 368.40 146.35)">-5</text>
<text x="368.40" y="217.40" font-size="9.2" fill="#000" text-anchor="middle" textLength="12.20" lengthAdjust="spacingAndGlyphs" transform="rotate(-90 368.40 217.40)">-10</text>
<text x="473.70" y="296.60" font-size="10.4" fill="#000" text-anchor="start" textLength="44.74" lengthAdjust="spacingAndGlyphs" xml:space="preserve">PC 1 - 37%</text>
<text x="346.90" y="125.00" font-size="8.6" fill="#000" text-anchor="middle" textLength="65.20" lengthAdjust="spacingAndGlyphs" transform="rotate(-90 346.90 125.00)">PC 2 - 10.5%</text>
<rect x="385.8" y="174.3" width="4" height="5" fill="#00ee00"/>
<rect x="429.4" y="138.0" width="4" height="5" fill="#00ee00"/>
<rect x="461.2" y="80.3" width="4" height="5" fill="#00ee00"/>
<rect x="473.4" y="88.0" width="4" height="5" fill="#00ee00"/>
<rect x="474.0" y="70.9" width="4" height="5" fill="#00ee00"/>
<rect x="478.4" y="65.8" width="4" height="5" fill="#00ee00"/>
<rect x="477.1" y="51.8" width="4" height="5" fill="#00ee00"/>
<rect x="489.6" y="47.1" width="4" height="5" fill="#00ee00"/>
<rect x="497.6" y="50.0" width="4" height="5" fill="#00ee00"/>
<rect x="507.3" y="38.9" width="4" height="5" fill="#00ee00"/>
<rect x="514.4" y="37.8" width="4" height="5" fill="#00ee00"/>
<rect x="521.9" y="33.2" width="4" height="5" fill="#00ee00"/>
<rect x="534.6" y="30.5" width="4" height="5" fill="#00ee00"/>
<rect x="547.0" y="19.9" width="4" height="5" fill="#00ee00"/>
<rect x="552.8" y="11.3" width="4" height="5" fill="#00ee00"/>
<ellipse cx="558.3" cy="13.6" rx="1.9" ry="2.45" fill="#ff1a00"/>
<ellipse cx="562.7" cy="12.5" rx="1.9" ry="2.45" fill="#ff1a00"/>
<ellipse cx="564.0" cy="22.6" rx="1.9" ry="2.45" fill="#ff1a00"/>
<ellipse cx="544.8" cy="33.0" rx="1.9" ry="2.45" fill="#ff1a00"/>
<ellipse cx="548.5" cy="35.7" rx="1.9" ry="2.45" fill="#ff1a00"/>
<ellipse cx="547.5" cy="53.9" rx="1.9" ry="2.45" fill="#ff1a00"/>
<ellipse cx="505.7" cy="62.9" rx="1.9" ry="2.45" fill="#ff1a00"/>
<ellipse cx="509.0" cy="66.9" rx="1.9" ry="2.45" fill="#ff1a00"/>
<ellipse cx="560.2" cy="70.4" rx="1.9" ry="2.45" fill="#ff1a00"/>
<ellipse cx="565.7" cy="75.0" rx="1.9" ry="2.45" fill="#ff1a00"/>
<ellipse cx="573.4" cy="79.4" rx="1.9" ry="2.45" fill="#ff1a00"/>
<ellipse cx="586.1" cy="71.0" rx="1.9" ry="2.45" fill="#ff1a00"/>
<ellipse cx="517.2" cy="87.5" rx="1.9" ry="2.45" fill="#ff1a00"/>
<ellipse cx="508.2" cy="104.0" rx="1.9" ry="2.45" fill="#ff1a00"/>
<ellipse cx="532.4" cy="110.7" rx="1.9" ry="2.45" fill="#ff1a00"/>
<ellipse cx="579.9" cy="107.2" rx="1.9" ry="2.45" fill="#ff1a00"/>
<ellipse cx="587.6" cy="109.0" rx="1.9" ry="2.45" fill="#ff1a00"/>
<ellipse cx="603.3" cy="108.4" rx="1.9" ry="2.45" fill="#ff1a00"/>
<path d="M559.0 9.5L561.6 14.7L556.4 14.7Z" fill="#0a28ff"/>
<path d="M536.2 25.6L538.8 30.8L533.6 30.8Z" fill="#0a28ff"/>
<path d="M567.3 25.0L569.9 30.2L564.7 30.2Z" fill="#0a28ff"/>
<path d="M540.8 56.5L543.4 61.7L538.2 61.7Z" fill="#0a28ff"/>
<path d="M529.0 116.6L531.6 121.8L526.4 121.8Z" fill="#0a28ff"/>
<path d="M588.3 141.9L590.9 147.1L585.7 147.1Z" fill="#0a28ff"/>
<path d="M578.3 154.5L580.9 159.7L575.7 159.7Z" fill="#0a28ff"/>
<path d="M602.4 155.0L605.0 160.2L599.8 160.2Z" fill="#0a28ff"/>
<path d="M604.7 233.3L607.3 238.5L602.1 238.5Z" fill="#0a28ff"/>
<rect x="637.4" y="3.4" width="46.6" height="66" fill="#fff" stroke="#333" stroke-width="0.9"/>
<text x="660.70" y="16.90" font-size="10.4" fill="#000" text-anchor="middle" textLength="27.50" lengthAdjust="spacingAndGlyphs">Groups</text>
<rect x="643.2" y="28.3" width="4" height="5" fill="#00ee00"/>
<ellipse cx="645.2" cy="43.4" rx="1.9" ry="2.45" fill="#ff1a00"/>
<path d="M645.2 53.4L647.8 58.6L642.6 58.6Z" fill="#0a28ff"/>
<text x="652.80" y="34.00" font-size="10.4" fill="#000" text-anchor="start" textLength="11.20" lengthAdjust="spacingAndGlyphs">UC</text>
<text x="652.80" y="47.00" font-size="10.4" fill="#000" text-anchor="start" textLength="27.30" lengthAdjust="spacingAndGlyphs">NMIBC</text>
<text x="652.80" y="60.30" font-size="10.4" fill="#000" text-anchor="start" textLength="20.50" lengthAdjust="spacingAndGlyphs">MIBC</text>
<circle cx="106.6" cy="473.6" r="100.1" fill="none" stroke="#ffc4cb" stroke-width="0.9"/>
<circle cx="232.4" cy="473.6" r="100.1" fill="none" stroke="#d8ead0" stroke-width="0.9"/>
<text x="-0.10" y="330.50" font-size="11.9" fill="#ff0000" text-anchor="start" font-weight="bold" textLength="161.20" lengthAdjust="spacingAndGlyphs" xml:space="preserve">Proteins significantly elevated</text>
<text x="12.80" y="345.80" font-size="11.9" fill="#ff0000" text-anchor="start" font-weight="bold" textLength="134.07" lengthAdjust="spacingAndGlyphs" xml:space="preserve">in all BC compared to UC</text>
<text x="61.30" y="361.70" font-size="11.9" fill="#ff0000" text-anchor="start" font-weight="bold" textLength="36.98" lengthAdjust="spacingAndGlyphs" xml:space="preserve">p&lt;0.05</text>
<text x="167.90" y="330.50" font-size="11.9" fill="#70ad47" text-anchor="start" font-weight="bold" textLength="160.96" lengthAdjust="spacingAndGlyphs" xml:space="preserve">Proteins significantly elevated</text>
<text x="171.40" y="346.00" font-size="11.9" fill="#70ad47" text-anchor="start" font-weight="bold" textLength="154.58" lengthAdjust="spacingAndGlyphs" xml:space="preserve">in MIBC compared to NMIBC</text>
<text x="230.40" y="361.50" font-size="11.9" fill="#70ad47" text-anchor="start" font-weight="bold" textLength="36.41" lengthAdjust="spacingAndGlyphs" xml:space="preserve">p&lt;0.05</text>
<text x="26.30" y="448.40" font-size="10.8" fill="#000" text-anchor="start" font-weight="bold" textLength="65.81" lengthAdjust="spacingAndGlyphs" xml:space="preserve">FC&gt;2: N = 91</text>
<text x="26.60" y="488.20" font-size="10.8" fill="#000" text-anchor="start" font-weight="bold" textLength="72.88" lengthAdjust="spacingAndGlyphs" xml:space="preserve">FC&gt;1: N = 143</text>
<text x="138.30" y="447.60" font-size="10.8" fill="#000" text-anchor="start" font-weight="bold" textLength="57.01" lengthAdjust="spacingAndGlyphs" xml:space="preserve">FC&gt;2: N = 2</text>
<text x="143.40" y="487.90" font-size="10.8" fill="#000" text-anchor="start" font-weight="bold" textLength="56.24" lengthAdjust="spacingAndGlyphs" xml:space="preserve">FC&gt;1: N = 4</text>
<text x="223.40" y="445.40" font-size="10.8" fill="#000" text-anchor="start" font-weight="bold" textLength="62.74" lengthAdjust="spacingAndGlyphs" xml:space="preserve">FC&gt;2: N  = 6</text>
<text x="223.40" y="488.60" font-size="10.8" fill="#000" text-anchor="start" font-weight="bold" textLength="59.82" lengthAdjust="spacingAndGlyphs" xml:space="preserve">FC&gt;1: N = 8</text>
<rect x="351.3" y="312.4" width="90.0" height="90.4" fill="#f4a3a0"/>
<clipPath id="c0"><rect x="351.3" y="312.4" width="90.0" height="90.4"/></clipPath>
<g clip-path="url(#c0)"><path d="M351.3 357.8 L381.3 342.1 L411.3 343.0 L441.3 347.0 M351.3 357.8 L381.3 342.4 L411.3 342.1 L441.3 338.3 M351.3 357.8 L381.3 337.3 L411.3 342.2 L441.3 339.4 M351.3 357.8 L381.3 348.3 L411.3 335.5 L441.3 330.9 M351.3 357.8 L381.3 335.6 L411.3 347.0 L441.3 341.0 M351.3 357.8 L381.3 334.8 L411.3 349.7 L441.3 348.1 M351.3 357.8 L381.3 345.8 L411.3 343.8 L441.3 327.1 M351.3 357.8 L381.3 334.3 L411.3 342.5 L441.3 324.5 M351.3 357.8 L381.3 337.4 L411.3 337.9 L441.3 323.8 M351.3 357.8 L381.3 342.4 L411.3 341.0 L441.3 344.9 M351.3 357.8 L381.3 343.3 L411.3 344.2 L441.3 336.0 M351.3 357.8 L381.3 345.9 L411.3 341.3 L441.3 330.2 M351.3 357.8 L381.3 352.0 L411.3 349.9 L441.3 344.8 M351.3 357.8 L381.3 346.7 L411.3 339.0 L441.3 329.0 M351.3 357.8 L381.3 339.2 L411.3 335.1 L441.3 342.9 M351.3 357.8 L381.3 341.2 L411.3 347.5 L441.3 333.0 M351.3 357.8 L381.3 351.2 L411.3 347.6 L441.3 323.0 M351.3 357.8 L381.3 337.8 L411.3 348.6 L441.3 335.2 M351.3 357.8 L381.3 351.6 L411.3 340.4 L441.3 324.9 M351.3 357.8 L381.3 345.3 L411.3 346.5 L441.3 330.0 M351.3 357.8 L381.3 335.6 L411.3 339.3 L441.3 348.1 M351.3 357.8 L381.3 347.6 L411.3 335.9 L441.3 329.4 M351.3 357.8 L381.3 335.8 L411.3 335.0 L441.3 343.7 M351.3 357.8 L381.3 337.2 L411.3 342.9 L441.3 334.6 M351.3 357.8 L381.3 337.4 L411.3 345.7 L441.3 326.4 M351.3 357.8 L381.3 345.6 L411.3 335.9 L441.3 333.9 M351.3 357.8 L381.3 337.8 L411.3 338.3 L441.3 348.2 M351.3 357.8 L381.3 348.5 L411.3 338.9 L441.3 346.0 M351.3 357.8 L381.3 337.8 L411.3 340.3 L441.3 345.2 M351.3 357.8 L381.3 345.6 L411.3 335.6 L441.3 348.7 M351.3 357.8 L381.3 337.8 L411.3 338.1 L441.3 343.1 M351.3 357.8 L381.3 339.9 L411.3 338.7 L441.3 324.9 M351.3 357.8 L381.3 335.6 L411.3 343.3 L441.3 329.3 M351.3 357.8 L381.3 344.8 L411.3 339.9 L441.3 334.8 M351.3 357.8 L381.3 351.3 L411.3 341.7 L441.3 337.9 M351.3 357.8 L381.3 349.6 L411.3 336.9 L441.3 327.0 M351.3 357.8 L381.3 350.4 L411.3 347.1 L441.3 329.5 M351.3 357.8 L381.3 337.4 L411.3 345.8 L441.3 347.5 M351.3 357.8 L381.3 337.5 L411.3 349.2 L441.3 345.9 M351.3 357.8 L381.3 344.9 L411.3 340.7 L441.3 325.7 M351.3 357.8 L381.3 336.6 L411.3 349.5 L441.3 334.5 M351.3 357.8 L381.3 347.3 L411.3 339.6 L441.3 345.7 M351.3 357.8 L381.3 345.5 L411.3 340.1 L441.3 333.3 M351.3 357.8 L381.3 347.5 L411.3 337.0 L441.3 334.3 M351.3 357.8 L381.3 344.9 L411.3 347.9 L441.3 341.7 M351.3 357.8 L381.3 340.5 L411.3 348.8 L441.3 333.9" stroke="#c8481c" stroke-width="1.05" fill="none" opacity="0.92"/>
<path d="M351.3 357.8 L381.3 313.0 L411.3 323.5 L441.3 313.5 M351.3 357.8 L381.3 323.0 L411.3 326.0 L441.3 316.0 M351.3 357.8 L381.3 328.0 L411.3 329.0 L441.3 319.0 M351.3 357.8 L381.3 331.0 L411.3 330.0 L441.3 321.0" stroke="#d65a30" stroke-width="1.15" fill="none"/>
<path d="M351.3 357.8 L381.3 334.5 L411.3 334.4 L441.3 323.3" stroke="#111" stroke-width="1.5" fill="none"/></g>
<rect x="351.3" y="312.4" width="90.0" height="90.4" fill="none" stroke="#111" stroke-width="1.6"/>
<text x="369.40" y="306.70" font-size="10.9" fill="#000" text-anchor="start" font-weight="bold" textLength="42.62" lengthAdjust="spacingAndGlyphs" xml:space="preserve">Cluster 1</text>
<text x="350.90" y="330.80" font-size="18.4" fill="#000" text-anchor="start" font-weight="bold" textLength="19.72" lengthAdjust="spacingAndGlyphs" xml:space="preserve">27</text>
<text x="356.10" y="395.10" font-size="16.6" fill="#000" text-anchor="start" font-weight="bold" textLength="55.78" lengthAdjust="spacingAndGlyphs" xml:space="preserve">2.1E-14</text>
<text x="357.90" y="404.60" font-size="8.6" fill="#000" text-anchor="end" font-weight="bold" textLength="11.40" lengthAdjust="spacingAndGlyphs" transform="rotate(-90 357.90 404.60)">UC</text>
<text x="383.40" y="404.60" font-size="8.6" fill="#000" text-anchor="end" font-weight="bold" textLength="23.20" lengthAdjust="spacingAndGlyphs" transform="rotate(-90 383.40 404.60)">Ta-Tis</text>
<text x="407.50" y="404.60" font-size="8.6" fill="#000" text-anchor="end" font-weight="bold" textLength="9.80" lengthAdjust="spacingAndGlyphs" transform="rotate(-90 407.50 404.60)">T1</text>
<text x="431.50" y="404.60" font-size="8.6" fill="#000" text-anchor="end" font-weight="bold" textLength="22.80" lengthAdjust="spacingAndGlyphs" transform="rotate(-90 431.50 404.60)">T2-T4</text>
<rect x="472.2" y="312.4" width="90.3" height="90.4" fill="#f4a3a0"/>
<clipPath id="c1"><rect x="472.2" y="312.4" width="90.3" height="90.4"/></clipPath>
<g clip-path="url(#c1)"><path d="M472.2 357.8 L502.3 344.6 L532.4 341.5 L562.5 342.3 M472.2 357.8 L502.3 339.3 L532.4 329.2 L562.5 334.7 M472.2 357.8 L502.3 341.4 L532.4 344.4 L562.5 343.0 M472.2 357.8 L502.3 346.6 L532.4 339.6 L562.5 342.2 M472.2 357.8 L502.3 339.3 L532.4 337.4 L562.5 329.2 M472.2 357.8 L502.3 351.5 L532.4 330.1 L562.5 346.3 M472.2 357.8 L502.3 338.2 L532.4 342.1 L562.5 333.8 M472.2 357.8 L502.3 343.5 L532.4 345.0 L562.5 325.5 M472.2 357.8 L502.3 338.0 L532.4 346.4 L562.5 338.2 M472.2 357.8 L502.3 338.5 L532.4 347.8 L562.5 349.6 M472.2 357.8 L502.3 338.8 L532.4 337.0 L562.5 328.5 M472.2 357.8 L502.3 342.0 L532.4 340.8 L562.5 329.3 M472.2 357.8 L502.3 348.1 L532.4 330.0 L562.5 329.5 M472.2 357.8 L502.3 350.1 L532.4 336.6 L562.5 335.9 M472.2 357.8 L502.3 346.5 L532.4 338.1 L562.5 335.0 M472.2 357.8 L502.3 337.5 L532.4 342.8 L562.5 350.2 M472.2 357.8 L502.3 352.6 L532.4 341.6 L562.5 334.3 M472.2 357.8 L502.3 342.8 L532.4 342.1 L562.5 342.5 M472.2 357.8 L502.3 338.8 L532.4 333.5 L562.5 334.4 M472.2 357.8 L502.3 345.2 L532.4 344.4 L562.5 338.0 M472.2 357.8 L502.3 337.5 L532.4 344.6 L562.5 336.2 M472.2 357.8 L502.3 345.3 L532.4 333.2 L562.5 336.1 M472.2 357.8 L502.3 343.2 L532.4 343.7 L562.5 327.7 M472.2 357.8 L502.3 345.8 L532.4 332.4 L562.5 343.1 M472.2 357.8 L502.3 337.6 L532.4 334.3 L562.5 333.9 M472.2 357.8 L502.3 347.2 L532.4 330.0 L562.5 336.9 M472.2 357.8 L502.3 340.3 L532.4 334.4 L562.5 337.4 M472.2 357.8 L502.3 352.3 L532.4 338.1 L562.5 349.9 M472.2 357.8 L502.3 339.7 L532.4 346.6 L562.5 334.5 M472.2 357.8 L502.3 340.0 L532.4 343.2 L562.5 348.7 M472.2 357.8 L502.3 337.1 L532.4 334.1 L562.5 345.0 M472.2 357.8 L502.3 342.5 L532.4 333.6 L562.5 325.2 M472.2 357.8 L502.3 337.6 L532.4 340.8 L562.5 350.6 M472.2 357.8 L502.3 353.0 L532.4 338.6 L562.5 325.6 M472.2 357.8 L502.3 342.2 L532.4 344.0 L562.5 346.6 M472.2 357.8 L502.3 347.2 L532.4 333.4 L562.5 338.7 M472.2 357.8 L502.3 344.6 L532.4 340.9 L562.5 331.8 M472.2 357.8 L502.3 352.1 L532.4 346.0 L562.5 329.2 M472.2 357.8 L502.3 341.7 L532.4 345.6 L562.5 332.2 M472.2 357.8 L502.3 352.1 L532.4 338.8 L562.5 343.1 M472.2 357.8 L502.3 349.2 L532.4 337.8 L562.5 339.6 M472.2 357.8 L502.3 343.3 L532.4 343.9 L562.5 346.1 M472.2 357.8 L502.3 341.7 L532.4 346.5 L562.5 341.7 M472.2 357.8 L502.3 343.1 L532.4 340.7 L562.5 350.7 M472.2 357.8 L502.3 347.3 L532.4 343.1 L562.5 349.7 M472.2 357.8 L502.3 352.5 L532.4 344.9 L562.5 341.7" stroke="#c8481c" stroke-width="1.05" fill="none" opacity="0.92"/>
<path d="M472.2 357.8 L502.3 335.0 L532.4 326.0 L562.5 313.5 M472.2 357.8 L502.3 338.0 L532.4 329.0 L562.5 319.0" stroke="#d65a30" stroke-width="1.15" fill="none"/>
<path d="M472.2 357.8 L502.3 345.8 L532.4 333.5 L562.5 323.9" stroke="#111" stroke-width="1.5" fill="none"/></g>
<rect x="472.2" y="312.4" width="90.3" height="90.4" fill="none" stroke="#111" stroke-width="1.6"/>
<text x="489.30" y="306.70" font-size="10.9" fill="#000" text-anchor="start" font-weight="bold" textLength="43.62" lengthAdjust="spacingAndGlyphs" xml:space="preserve">Cluster 2</text>
<text x="472.00" y="330.80" font-size="18.4" fill="#000" text-anchor="start" font-weight="bold" textLength="20.62" lengthAdjust="spacingAndGlyphs" xml:space="preserve">29</text>
<text x="477.80" y="396.00" font-size="16.6" fill="#000" text-anchor="start" font-weight="bold" textLength="56.93" lengthAdjust="spacingAndGlyphs" xml:space="preserve">2.8E-12</text>
<text x="478.90" y="404.60" font-size="8.6" fill="#000" text-anchor="end" font-weight="bold" textLength="11.40" lengthAdjust="spacingAndGlyphs" transform="rotate(-90 478.90 404.60)">UC</text>
<text x="504.10" y="404.60" font-size="8.6" fill="#000" text-anchor="end" font-weight="bold" textLength="23.20" lengthAdjust="spacingAndGlyphs" transform="rotate(-90 504.10 404.60)">Ta-Tis</text>
<text x="527.70" y="404.60" font-size="8.6" fill="#000" text-anchor="end" font-weight="bold" textLength="9.80" lengthAdjust="spacingAndGlyphs" transform="rotate(-90 527.70 404.60)">T1</text>
<text x="552.30" y="404.60" font-size="8.6" fill="#000" text-anchor="end" font-weight="bold" textLength="22.80" lengthAdjust="spacingAndGlyphs" transform="rotate(-90 552.30 404.60)">T2-T4</text>
<rect x="592.8" y="312.4" width="90.5" height="90.4" fill="#b2f59a"/>
<clipPath id="c2"><rect x="592.8" y="312.4" width="90.5" height="90.4"/></clipPath>
<g clip-path="url(#c2)"><path d="M592.8 357.8 L623.0 359.6 L653.1 388.6 L683.3 388.0 M592.8 357.8 L623.0 365.5 L653.1 380.2 L683.3 379.4 M592.8 357.8 L623.0 358.5 L653.1 380.8 L683.3 388.9 M592.8 357.8 L623.0 358.3 L653.1 386.0 L683.3 379.1 M592.8 357.8 L623.0 359.9 L653.1 384.3 L683.3 390.9 M592.8 357.8 L623.0 363.1 L653.1 377.2 L683.3 380.2 M592.8 357.8 L623.0 358.5 L653.1 391.8 L683.3 390.4 M592.8 357.8 L623.0 365.1 L653.1 391.0 L683.3 389.2 M592.8 357.8 L623.0 366.5 L653.1 390.5 L683.3 379.9 M592.8 357.8 L623.0 365.5 L653.1 385.3 L683.3 389.3 M592.8 357.8 L623.0 362.6 L653.1 384.3 L683.3 381.9 M592.8 357.8 L623.0 361.3 L653.1 382.3 L683.3 377.2 M592.8 357.8 L623.0 365.2 L653.1 390.6 L683.3 393.7 M592.8 357.8 L623.0 363.9 L653.1 386.4 L683.3 389.2 M592.8 357.8 L623.0 358.3 L653.1 388.5 L683.3 383.4 M592.8 357.8 L623.0 358.8 L653.1 380.4 L683.3 384.9 M592.8 357.8 L623.0 359.5 L653.1 384.8 L683.3 386.5 M592.8 357.8 L623.0 361.0 L653.1 379.2 L683.3 384.3 M592.8 357.8 L623.0 359.4 L653.1 381.0 L683.3 378.7 M592.8 357.8 L623.0 360.7 L653.1 378.2 L683.3 387.4 M592.8 357.8 L623.0 366.5 L653.1 383.6 L683.3 388.7 M592.8 357.8 L623.0 366.3 L653.1 377.7 L683.3 377.7 M592.8 357.8 L623.0 365.1 L653.1 391.2 L683.3 387.1 M592.8 357.8 L623.0 358.6 L653.1 384.0 L683.3 391.5 M592.8 357.8 L623.0 365.9 L653.1 390.7 L683.3 378.9 M592.8 357.8 L623.0 365.5 L653.1 383.4 L683.3 388.6 M592.8 357.8 L623.0 358.4 L653.1 393.5 L683.3 386.5 M592.8 357.8 L623.0 364.2 L653.1 380.6 L683.3 386.7 M592.8 357.8 L623.0 362.8 L653.1 387.1 L683.3 381.8 M592.8 357.8 L623.0 364.3 L653.1 382.8 L683.3 380.6 M592.8 357.8 L623.0 358.6 L653.1 388.6 L683.3 377.1 M592.8 357.8 L623.0 359.3 L653.1 378.2 L683.3 387.2 M592.8 357.8 L623.0 362.6 L653.1 386.2 L683.3 375.7 M592.8 357.8 L623.0 361.4 L653.1 382.8 L683.3 376.8 M592.8 357.8 L623.0 364.0 L653.1 402.0 L683.3 391.3 M592.8 357.8 L623.0 368.2 L653.1 393.2 L683.3 396.6 M592.8 357.8 L623.0 365.1 L653.1 395.6 L683.3 394.0 M592.8 357.8 L623.0 375.7 L653.1 390.1 L683.3 393.7 M592.8 357.8 L623.0 371.0 L653.1 401.6 L683.3 395.7 M592.8 357.8 L623.0 370.6 L653.1 398.0 L683.3 393.3 M592.8 357.8 L623.0 364.4 L653.1 396.0 L683.3 400.0 M592.8 357.8 L623.0 374.3 L653.1 393.1 L683.3 397.5 M592.8 357.8 L623.0 375.9 L653.1 393.1 L683.3 396.5 M592.8 357.8 L623.0 369.0 L653.1 392.9 L683.3 393.2 M592.8 357.8 L623.0 366.9 L653.1 394.2 L683.3 390.4 M592.8 357.8 L623.0 369.6 L653.1 391.0 L683.3 398.3" stroke="#c8481c" stroke-width="1.05" fill="none" opacity="0.92"/>
<path d="" stroke="#d65a30" stroke-width="1.15" fill="none"/>
<path d="M592.8 357.8 L623.0 357.8 L653.1 391.9 L683.3 391.9" stroke="#111" stroke-width="1.5" fill="none"/></g>
<rect x="592.8" y="312.4" width="90.5" height="90.4" fill="none" stroke="#111" stroke-width="1.6"/>
<text x="613.50" y="306.70" font-size="10.9" fill="#000" text-anchor="start" font-weight="bold" textLength="43.50" lengthAdjust="spacingAndGlyphs" xml:space="preserve">Cluster 3</text>
<text x="594.30" y="330.80" font-size="18.4" fill="#000" text-anchor="start" font-weight="bold" textLength="21.76" lengthAdjust="spacingAndGlyphs" xml:space="preserve">28</text>
<text x="596.00" y="398.40" font-size="16.6" fill="#000" text-anchor="start" font-weight="bold" textLength="53.50" lengthAdjust="spacingAndGlyphs" xml:space="preserve">1.3E-11</text>
<text x="603.00" y="404.60" font-size="8.6" fill="#000" text-anchor="end" font-weight="bold" textLength="11.40" lengthAdjust="spacingAndGlyphs" transform="rotate(-90 603.00 404.60)">UC</text>
<text x="631.00" y="404.60" font-size="8.6" fill="#000" text-anchor="end" font-weight="bold" textLength="23.20" lengthAdjust="spacingAndGlyphs" transform="rotate(-90 631.00 404.60)">Ta-Tis</text>
<text x="657.30" y="404.60" font-size="8.6" fill="#000" text-anchor="end" font-weight="bold" textLength="9.80" lengthAdjust="spacingAndGlyphs" transform="rotate(-90 657.30 404.60)">T1</text>
<text x="683.60" y="404.60" font-size="8.6" fill="#000" text-anchor="end" font-weight="bold" textLength="22.80" lengthAdjust="spacingAndGlyphs" transform="rotate(-90 683.60 404.60)">T2-T4</text>
<rect x="350.9" y="451.7" width="89.7" height="91.0" fill="#97a2fa"/>
<clipPath id="c3"><rect x="350.9" y="451.7" width="89.7" height="91.0"/></clipPath>
<g clip-path="url(#c3)"><path d="M350.9 496.5 L380.8 504.4 L410.7 524.8 L440.6 513.8 M350.9 496.5 L380.8 518.0 L410.7 515.7 L440.6 507.8 M350.9 496.5 L380.8 514.7 L410.7 523.8 L440.6 508.5 M350.9 496.5 L380.8 513.9 L410.7 518.3 L440.6 515.7 M350.9 496.5 L380.8 504.6 L410.7 514.7 L440.6 517.5 M350.9 496.5 L380.8 508.5 L410.7 515.5 L440.6 516.1 M350.9 496.5 L380.8 513.0 L410.7 513.1 L440.6 512.3 M350.9 496.5 L380.8 513.5 L410.7 513.5 L440.6 513.8 M350.9 496.5 L380.8 504.7 L410.7 517.1 L440.6 505.2 M350.9 496.5 L380.8 506.0 L410.7 530.5 L440.6 510.1 M350.9 496.5 L380.8 518.8 L410.7 519.2 L440.6 513.1 M350.9 496.5 L380.8 516.9 L410.7 524.4 L440.6 505.7 M350.9 496.5 L380.8 512.3 L410.7 523.3 L440.6 506.7 M350.9 496.5 L380.8 504.2 L410.7 528.4 L440.6 511.7 M350.9 496.5 L380.8 505.9 L410.7 519.5 L440.6 507.3 M350.9 496.5 L380.8 515.7 L410.7 520.5 L440.6 505.5 M350.9 496.5 L380.8 516.0 L410.7 511.9 L440.6 508.2 M350.9 496.5 L380.8 503.2 L410.7 525.5 L440.6 505.7 M350.9 496.5 L380.8 511.3 L410.7 512.0 L440.6 511.2 M350.9 496.5 L380.8 513.9 L410.7 521.2 L440.6 510.8 M350.9 496.5 L380.8 510.6 L410.7 519.2 L440.6 512.9 M350.9 496.5 L380.8 504.2 L410.7 520.0 L440.6 507.5 M350.9 496.5 L380.8 516.8 L410.7 529.7 L440.6 505.0 M350.9 496.5 L380.8 505.0 L410.7 524.8 L440.6 512.6 M350.9 496.5 L380.8 503.0 L410.7 524.8 L440.6 518.2 M350.9 496.5 L380.8 509.6 L410.7 517.3 L440.6 512.5 M350.9 496.5 L380.8 518.0 L410.7 515.5 L440.6 508.5 M350.9 496.5 L380.8 505.8 L410.7 523.2 L440.6 511.0 M350.9 496.5 L380.8 506.9 L410.7 518.1 L440.6 504.5 M350.9 496.5 L380.8 507.8 L410.7 530.6 L440.6 512.8 M350.9 496.5 L380.8 507.3 L410.7 529.7 L440.6 509.4 M350.9 496.5 L380.8 506.8 L410.7 510.7 L440.6 506.2 M350.9 496.5 L380.8 505.9 L410.7 514.8 L440.6 517.1 M350.9 496.5 L380.8 507.0 L410.7 515.2 L440.6 513.1 M350.9 496.5 L380.8 517.6 L410.7 516.1 L440.6 515.4 M350.9 496.5 L380.8 508.7 L410.7 521.8 L440.6 512.9 M350.9 496.5 L380.8 523.3 L410.7 537.8 L440.6 527.6 M350.9 496.5 L380.8 522.1 L410.7 532.8 L440.6 525.5 M350.9 496.5 L380.8 523.5 L410.7 535.1 L440.6 532.1 M350.9 496.5 L380.8 515.8 L410.7 539.9 L440.6 529.4 M350.9 496.5 L380.8 515.0 L410.7 540.1 L440.6 527.0 M350.9 496.5 L380.8 516.1 L410.7 531.4 L440.6 520.8 M350.9 496.5 L380.8 514.4 L410.7 537.0 L440.6 521.4 M350.9 496.5 L380.8 515.1 L410.7 533.8 L440.6 528.3 M350.9 496.5 L380.8 516.6 L410.7 538.2 L440.6 523.4 M350.9 496.5 L380.8 516.4 L410.7 533.5 L440.6 521.2" stroke="#c8481c" stroke-width="1.05" fill="none" opacity="0.92"/>
<path d="" stroke="#d65a30" stroke-width="1.15" fill="none"/>
<path d="M350.9 496.5 L380.8 519.3 L410.7 530.9 L440.6 519.3" stroke="#111" stroke-width="1.5" fill="none"/></g>
<rect x="350.9" y="451.7" width="89.7" height="91.0" fill="none" stroke="#111" stroke-width="1.6"/>
<text x="375.60" y="446.30" font-size="10.9" fill="#000" text-anchor="start" font-weight="bold" textLength="43.20" lengthAdjust="spacingAndGlyphs" xml:space="preserve">Cluster 4</text>
<text x="355.80" y="470.00" font-size="18.4" fill="#000" text-anchor="start" font-weight="bold" textLength="20.48" lengthAdjust="spacingAndGlyphs" xml:space="preserve">25</text>
<text x="352.70" y="539.70" font-size="16.6" fill="#000" text-anchor="start" font-weight="bold" textLength="47.55" lengthAdjust="spacingAndGlyphs" xml:space="preserve">3.0E-9</text>
<text x="363.00" y="544.80" font-size="8.6" fill="#000" text-anchor="end" font-weight="bold" textLength="11.40" lengthAdjust="spacingAndGlyphs" transform="rotate(-90 363.00 544.80)">UC</text>
<text x="388.30" y="544.80" font-size="8.6" fill="#000" text-anchor="end" font-weight="bold" textLength="23.20" lengthAdjust="spacingAndGlyphs" transform="rotate(-90 388.30 544.80)">Ta-Tis</text>
<text x="411.70" y="544.80" font-size="8.6" fill="#000" text-anchor="end" font-weight="bold" textLength="9.80" lengthAdjust="spacingAndGlyphs" transform="rotate(-90 411.70 544.80)">T1</text>
<text x="436.40" y="544.80" font-size="8.6" fill="#000" text-anchor="end" font-weight="bold" textLength="22.80" lengthAdjust="spacingAndGlyphs" transform="rotate(-90 436.40 544.80)">T2-T4</text>
<rect x="471.5" y="451.7" width="91.3" height="91.0" fill="#b2f59a"/>
<clipPath id="c4"><rect x="471.5" y="451.7" width="91.3" height="91.0"/></clipPath>
<g clip-path="url(#c4)"><path d="M471.5 497.3 L501.9 508.7 L532.4 506.2 L562.8 525.7 M471.5 497.3 L501.9 501.4 L532.4 521.8 L562.8 511.3 M471.5 497.3 L501.9 507.9 L532.4 516.9 L562.8 528.1 M471.5 497.3 L501.9 509.0 L532.4 509.8 L562.8 517.8 M471.5 497.3 L501.9 506.4 L532.4 510.5 L562.8 516.3 M471.5 497.3 L501.9 502.1 L532.4 519.7 L562.8 528.5 M471.5 497.3 L501.9 507.2 L532.4 509.6 L562.8 529.5 M471.5 497.3 L501.9 504.6 L532.4 509.7 L562.8 520.1 M471.5 497.3 L501.9 503.8 L532.4 507.3 L562.8 522.3 M471.5 497.3 L501.9 503.2 L532.4 515.1 L562.8 529.6 M471.5 497.3 L501.9 505.8 L532.4 512.5 L562.8 528.3 M471.5 497.3 L501.9 509.0 L532.4 513.8 L562.8 529.9 M471.5 497.3 L501.9 500.2 L532.4 508.2 L562.8 514.4 M471.5 497.3 L501.9 508.4 L532.4 517.0 L562.8 525.4 M471.5 497.3 L501.9 502.6 L532.4 513.9 L562.8 528.7 M471.5 497.3 L501.9 500.9 L532.4 507.9 L562.8 511.9 M471.5 497.3 L501.9 504.2 L532.4 519.4 L562.8 522.1 M471.5 497.3 L501.9 503.6 L532.4 514.0 L562.8 514.6 M471.5 497.3 L501.9 508.5 L532.4 511.7 L562.8 515.7 M471.5 497.3 L501.9 502.8 L532.4 519.2 L562.8 517.4 M471.5 497.3 L501.9 508.1 L532.4 511.4 L562.8 519.8 M471.5 497.3 L501.9 500.7 L532.4 520.5 L562.8 526.9 M471.5 497.3 L501.9 504.3 L532.4 507.8 L562.8 520.8 M471.5 497.3 L501.9 503.4 L532.4 519.4 L562.8 529.6 M471.5 497.3 L501.9 506.7 L532.4 510.6 L562.8 511.8 M471.5 497.3 L501.9 508.0 L532.4 521.1 L562.8 514.2 M471.5 497.3 L501.9 504.5 L532.4 513.7 L562.8 530.5 M471.5 497.3 L501.9 500.4 L532.4 507.0 L562.8 527.9 M471.5 497.3 L501.9 505.1 L532.4 513.4 L562.8 526.6 M471.5 497.3 L501.9 505.3 L532.4 517.1 L562.8 516.1 M471.5 497.3 L501.9 506.8 L532.4 520.1 L562.8 531.3 M471.5 497.3 L501.9 512.5 L532.4 525.7 L562.8 531.6 M471.5 497.3 L501.9 512.2 L532.4 530.6 L562.8 535.5 M471.5 497.3 L501.9 509.1 L532.4 532.3 L562.8 538.8 M471.5 497.3 L501.9 514.9 L532.4 533.4 L562.8 526.2 M471.5 497.3 L501.9 512.7 L532.4 525.2 L562.8 532.2 M471.5 497.3 L501.9 511.2 L532.4 522.2 L562.8 530.0 M471.5 497.3 L501.9 515.9 L532.4 525.0 L562.8 540.6 M471.5 497.3 L501.9 512.8 L532.4 524.7 L562.8 531.1 M471.5 497.3 L501.9 512.0 L532.4 530.5 L562.8 531.4 M471.5 497.3 L501.9 506.6 L532.4 522.6 L562.8 539.8 M471.5 497.3 L501.9 513.3 L532.4 521.6 L562.8 539.4 M471.5 497.3 L501.9 511.8 L532.4 525.0 L562.8 540.3 M471.5 497.3 L501.9 507.3 L532.4 521.5 L562.8 531.5 M471.5 497.3 L501.9 513.4 L532.4 528.2 L562.8 533.7 M471.5 497.3 L501.9 515.1 L532.4 525.9 L562.8 538.6" stroke="#c8481c" stroke-width="1.05" fill="none" opacity="0.92"/>
<path d="" stroke="#d65a30" stroke-width="1.15" fill="none"/>
<path d="M471.5 497.3 L501.9 508.2 L532.4 519.1 L562.8 530.0" stroke="#111" stroke-width="1.5" fill="none"/></g>
<rect x="471.5" y="451.7" width="91.3" height="91.0" fill="none" stroke="#111" stroke-width="1.6"/>
<text x="494.30" y="446.30" font-size="10.9" fill="#000" text-anchor="start" font-weight="bold" textLength="43.06" lengthAdjust="spacingAndGlyphs" xml:space="preserve">Cluster 5</text>
<text x="473.70" y="470.00" font-size="18.4" fill="#000" text-anchor="start" font-weight="bold" textLength="20.98" lengthAdjust="spacingAndGlyphs" xml:space="preserve">22</text>
<text x="476.00" y="538.60" font-size="16.6" fill="#000" text-anchor="start" font-weight="bold" textLength="46.41" lengthAdjust="spacingAndGlyphs" xml:space="preserve">1.7E-7</text>
<text x="485.80" y="544.80" font-size="8.6" fill="#000" text-anchor="end" font-weight="bold" textLength="11.40" lengthAdjust="spacingAndGlyphs" transform="rotate(-90 485.80 544.80)">UC</text>
<text x="510.20" y="544.80" font-size="8.6" fill="#000" text-anchor="end" font-weight="bold" textLength="23.20" lengthAdjust="spacingAndGlyphs" transform="rotate(-90 510.20 544.80)">Ta-Tis</text>
<text x="534.00" y="544.80" font-size="8.6" fill="#000" text-anchor="end" font-weight="bold" textLength="9.80" lengthAdjust="spacingAndGlyphs" transform="rotate(-90 534.00 544.80)">T1</text>
<text x="559.00" y="544.80" font-size="8.6" fill="#000" text-anchor="end" font-weight="bold" textLength="22.80" lengthAdjust="spacingAndGlyphs" transform="rotate(-90 559.00 544.80)">T2-T4</text>
<rect x="591.8" y="451.7" width="91.9" height="91.0" fill="#97a2fa"/>
<clipPath id="c5"><rect x="591.8" y="451.7" width="91.9" height="91.0"/></clipPath>
<g clip-path="url(#c5)"><path d="M591.8 497.3 L622.4 500.3 L653.1 523.2 L683.7 513.6 M591.8 497.3 L622.4 501.0 L653.1 522.1 L683.7 516.2 M591.8 497.3 L622.4 499.3 L653.1 525.5 L683.7 509.1 M591.8 497.3 L622.4 499.7 L653.1 521.0 L683.7 510.6 M591.8 497.3 L622.4 503.7 L653.1 520.7 L683.7 517.7 M591.8 497.3 L622.4 505.6 L653.1 519.8 L683.7 518.8 M591.8 497.3 L622.4 504.3 L653.1 526.0 L683.7 509.3 M591.8 497.3 L622.4 501.1 L653.1 525.4 L683.7 512.3 M591.8 497.3 L622.4 499.0 L653.1 520.6 L683.7 511.8 M591.8 497.3 L622.4 504.1 L653.1 521.2 L683.7 513.7 M591.8 497.3 L622.4 502.8 L653.1 530.2 L683.7 512.2 M591.8 497.3 L622.4 497.4 L653.1 530.6 L683.7 518.2 M591.8 497.3 L622.4 504.1 L653.1 523.9 L683.7 511.6 M591.8 497.3 L622.4 498.4 L653.1 520.6 L683.7 514.1 M591.8 497.3 L622.4 497.6 L653.1 526.5 L683.7 517.0 M591.8 497.3 L622.4 497.1 L653.1 528.6 L683.7 514.4 M591.8 497.3 L622.4 505.3 L653.1 523.1 L683.7 517.8 M591.8 497.3 L622.4 501.1 L653.1 525.2 L683.7 514.5 M591.8 497.3 L622.4 497.2 L653.1 518.2 L683.7 511.6 M591.8 497.3 L622.4 500.7 L653.1 521.5 L683.7 514.9 M591.8 497.3 L622.4 502.9 L653.1 522.0 L683.7 512.5 M591.8 497.3 L622.4 501.6 L653.1 530.3 L683.7 517.6 M591.8 497.3 L622.4 502.9 L653.1 528.3 L683.7 511.5 M591.8 497.3 L622.4 497.9 L653.1 517.4 L683.7 510.3 M591.8 497.3 L622.4 497.1 L653.1 525.4 L683.7 519.1 M591.8 497.3 L622.4 498.0 L653.1 526.3 L683.7 519.3 M591.8 497.3 L622.4 503.9 L653.1 518.3 L683.7 516.0 M591.8 497.3 L622.4 499.3 L653.1 518.7 L683.7 509.1 M591.8 497.3 L622.4 501.7 L653.1 529.8 L683.7 510.1 M591.8 497.3 L622.4 498.3 L653.1 521.8 L683.7 509.4 M591.8 497.3 L622.4 504.2 L653.1 537.7 L683.7 522.0 M591.8 497.3 L622.4 500.4 L653.1 526.5 L683.7 518.6 M591.8 497.3 L622.4 506.0 L653.1 540.8 L683.7 522.5 M591.8 497.3 L622.4 500.9 L653.1 529.5 L683.7 521.4 M591.8 497.3 L622.4 501.0 L653.1 527.9 L683.7 521.6 M591.8 497.3 L622.4 507.6 L653.1 529.8 L683.7 527.5 M591.8 497.3 L622.4 507.9 L653.1 532.9 L683.7 518.9 M591.8 497.3 L622.4 501.7 L653.1 536.7 L683.7 526.7 M591.8 497.3 L622.4 507.7 L653.1 529.3 L683.7 521.5 M591.8 497.3 L622.4 500.2 L653.1 530.9 L683.7 519.8 M591.8 497.3 L622.4 501.1 L653.1 527.2 L683.7 528.9 M591.8 497.3 L622.4 502.7 L653.1 534.0 L683.7 522.9 M591.8 497.3 L622.4 504.2 L653.1 535.4 L683.7 522.5 M591.8 497.3 L622.4 504.4 L653.1 527.3 L683.7 524.2 M591.8 497.3 L622.4 506.0 L653.1 537.6 L683.7 520.1 M591.8 497.3 L622.4 504.2 L653.1 538.9 L683.7 525.5" stroke="#c8481c" stroke-width="1.05" fill="none" opacity="0.92"/>
<path d="" stroke="#d65a30" stroke-width="1.15" fill="none"/>
<path d="M591.8 497.3 L622.4 497.3 L653.1 530.6 L683.7 514.0" stroke="#111" stroke-width="1.5" fill="none"/></g>
<rect x="591.8" y="451.7" width="91.9" height="91.0" fill="none" stroke="#111" stroke-width="1.6"/>
<text x="613.90" y="446.30" font-size="10.9" fill="#000" text-anchor="start" font-weight="bold" textLength="44.18" lengthAdjust="spacingAndGlyphs" xml:space="preserve">Cluster 6</text>
<text x="595.40" y="470.00" font-size="18.4" fill="#000" text-anchor="start" font-weight="bold" textLength="21.15" lengthAdjust="spacingAndGlyphs" xml:space="preserve">19</text>
<text x="595.20" y="539.90" font-size="16.6" fill="#000" text-anchor="start" font-weight="bold" textLength="47.32" lengthAdjust="spacingAndGlyphs" xml:space="preserve">8.6E-7</text>
<text x="605.00" y="544.80" font-size="8.6" fill="#000" text-anchor="end" font-weight="bold" textLength="11.40" lengthAdjust="spacingAndGlyphs" transform="rotate(-90 605.00 544.80)">UC</text>
<text x="630.00" y="544.80" font-size="8.6" fill="#000" text-anchor="end" font-weight="bold" textLength="23.20" lengthAdjust="spacingAndGlyphs" transform="rotate(-90 630.00 544.80)">Ta-Tis</text>
<text x="653.40" y="544.80" font-size="8.6" fill="#000" text-anchor="end" font-weight="bold" textLength="9.80" lengthAdjust="spacingAndGlyphs" transform="rotate(-90 653.40 544.80)">T1</text>
<text x="677.50" y="544.80" font-size="8.6" fill="#000" text-anchor="end" font-weight="bold" textLength="22.80" lengthAdjust="spacingAndGlyphs" transform="rotate(-90 677.50 544.80)">T2-T4</text>
<text x="0.40" y="12.90" font-size="18.3" fill="#000" text-anchor="start" font-weight="bold" textLength="13.40" lengthAdjust="spacingAndGlyphs">A</text>
<text x="329.90" y="12.80" font-size="17.5" fill="#000" text-anchor="start" font-weight="bold" textLength="11.20" lengthAdjust="spacingAndGlyphs">B</text>
<text x="-0.40" y="304.20" font-size="16.5" fill="#000" text-anchor="start" font-weight="bold">C</text>
<text x="330.30" y="304.40" font-size="17" fill="#000" text-anchor="start" font-weight="bold">D</text></svg>
</body></html>
